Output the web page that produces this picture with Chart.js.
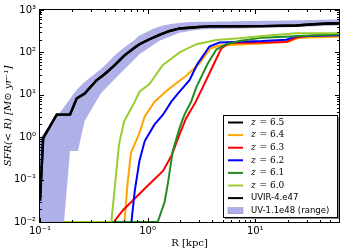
<!DOCTYPE html>
<html>
<head>
<meta charset="utf-8">
<script src="https://cdn.jsdelivr.net/npm/chart.js@4.4.0/dist/chart.umd.min.js"></script>
<style>
    html, body { margin: 0; padding: 0; background: #ffffff; }
    #wrap { width: 341px; height: 250px; position: relative; }
</style>
</head>
<body>
<div id="wrap"><canvas id="sfrChart"></canvas></div>
<script>
// Eixos e ticks
const xMajor = [0.1, 1, 10];
const yMajor = [0.01, 0.1, 1, 10, 100, 1000];

// Curvas SFR(<R) para cada redshift
const rZ65 = [0.1, 0.107, 0.143, 0.19, 0.219, 0.26, 0.335, 0.4, 0.495, 0.61, 0.76, 0.84, 1.04, 1.29, 1.6, 1.98, 2.45, 3.0, 3.75, 7.1, 11.6, 24, 35, 48, 60];
const sfrZ65 = [0.032, 0.95, 3.4, 3.4, 8.2, 10.7, 22, 31, 50, 85, 131, 156, 204, 260, 320, 367, 382, 396, 410, 415, 417, 431, 460, 479, 479];

const rZ64 = [0.1, 0.61, 0.65, 0.70, 0.84, 0.94, 1.16, 1.53, 2.28, 3.0, 3.83, 4.64, 7.1, 11.6, 20.6, 25.5, 60];
const sfrZ64 = [0.01, 0.01, 0.079, 0.43, 1.26, 3.1, 6.9, 13, 28, 53, 124, 146, 153, 162, 180, 223, 235];

const rZ63 = [0.1, 0.484, 0.59, 0.785, 1.04, 1.39, 1.66, 1.98, 2.28, 2.8, 3.25, 4.03, 4.84, 5.7, 19.4, 24, 31.6, 60];
const sfrZ63 = [0.01, 0.01, 0.019, 0.039, 0.079, 0.16, 0.36, 1.16, 2.8, 6.9, 15, 47, 124, 166, 177, 223, 244, 267];

const rZ62 = [0.1, 0.707, 0.76, 0.84, 0.94, 1.16, 1.39, 1.66, 1.9, 2.45, 2.9, 3.75, 4.64, 11.6, 19.4, 24, 60];
const sfrZ62 = [0.01, 0.01, 0.055, 0.28, 0.81, 2.0, 3.4, 6.9, 10.5, 22, 53, 138, 171, 185, 200, 242, 255];

const rZ61 = [0.1, 1.24, 1.44, 1.54, 1.71, 1.98, 2.2, 2.54, 2.83, 3.6, 4.35, 5.36, 7.1, 11.6, 60];
const sfrZ61 = [0.01, 0.01, 0.03, 0.079, 0.47, 1.64, 3.4, 6.9, 15, 53, 117, 156, 185, 223, 267];

const rZ60 = [0.1, 0.46, 0.506, 0.542, 0.604, 0.76, 0.84, 1.04, 1.38, 1.98, 2.84, 4.35, 7.1, 11.6, 24, 60];
const sfrZ60 = [0.01, 0.01, 0.113, 0.68, 2.35, 6.9, 11.8, 18, 50, 100, 156, 197, 215, 244, 281, 281];

// Faixa UV-1.1e48 (limites superior e inferior)
const rBand = [0.1, 0.125, 0.155, 0.19, 0.225, 0.26, 0.37, 0.53, 0.76, 0.84, 1.29, 1.98, 3.0, 7.1, 20, 60];
const bandUpper = [0.95, 2.0, 4.0, 8, 14, 20, 41, 100, 200, 250, 410, 495, 525, 546, 565, 595];
const bandLower = [0.001, 0.001, 0.001, 0.47, 0.47, 2.4, 11, 28, 70, 91, 187, 292, 348, 367, 390, 431];

const colors = {
    z65: '#000000',
    z64: '#ffa500',
    z63: '#ff0000',
    z62: '#0000ff',
    z61: '#228b22',
    z60: '#9acd32',
    band: '#b0b0e8'
};

function pts(xs, ys) {
    return xs.map((x, i) => ({ x: x, y: ys[i] }));
}

function supLabel(v) {
    const map = { '-': '⁻', '0': '⁰', '1': '¹', '2': '²', '3': '³' };
    const e = String(Math.round(Math.log10(v)));
    return '10' + e.split('').map(c => map[c]).join('');
}

function lineSet(label, xs, ys, color, order, width) {
    return {
        label: label,
        data: pts(xs, ys),
        borderColor: color,
        backgroundColor: color,
        borderWidth: width || 2,
        pointRadius: 0,
        tension: 0,
        fill: false,
        order: order
    };
}

// Ticks internos (estilo matplotlib) e moldura
const innerTicks = {
    id: 'innerTicks',
    afterDatasetsDraw(chart) {
        const ctx = chart.ctx;
        const a = chart.chartArea;
        const xs = chart.scales.x;
        const ys = chart.scales.y;
        ctx.save();
        ctx.strokeStyle = '#000';
        ctx.lineWidth = 1;
        ctx.strokeRect(a.left - 0.5, a.top - 0.5, a.right - a.left + 1, a.bottom - a.top + 1);
        ctx.beginPath();
        for (let d = -1; d <= 1; d++) {
            for (let m = 1; m <= 9; m++) {
                const v = m * Math.pow(10, d);
                if (v < xs.min || v > xs.max) continue;
                const px = Math.round(xs.getPixelForValue(v)) + 0.5;
                const len = m === 1 ? 4 : 2;
                ctx.moveTo(px, a.bottom); ctx.lineTo(px, a.bottom - len);
                ctx.moveTo(px, a.top); ctx.lineTo(px, a.top + len);
            }
        }
        for (let d = -2; d <= 3; d++) {
            for (let m = 1; m <= 9; m++) {
                const v = m * Math.pow(10, d);
                if (v < ys.min || v > ys.max) continue;
                const py = Math.round(ys.getPixelForValue(v)) + 0.5;
                const len = m === 1 ? 4 : 2;
                ctx.moveTo(a.left, py); ctx.lineTo(a.left + len, py);
                ctx.moveTo(a.right, py); ctx.lineTo(a.right - len, py);
            }
        }
        ctx.stroke();
        ctx.restore();
    }
};

// Legenda dentro do gráfico
const boxLegend = {
    id: 'boxLegend',
    afterDraw(chart) {
        const ctx = chart.ctx;
        const a = chart.chartArea;
        const right = a.right - 2, bottom = a.bottom - 5;
        const w = 114, h = 102;
        const left = right - w, top = bottom - h;
        ctx.save();
        ctx.fillStyle = '#888';
        ctx.fillRect(left + 2, top + 2, w, h);
        ctx.fillStyle = '#fff';
        ctx.fillRect(left, top, w, h);
        ctx.strokeStyle = '#000';
        ctx.lineWidth = 1;
        ctx.strokeRect(left + 0.5, top + 0.5, w, h);

        const items = chart.data.datasets.filter(ds => ds.legendRow !== undefined)
            .sort((p, q) => p.legendRow - q.legendRow);
        items.forEach((ds, i) => {
            const y = top + 7.5 + i * 12.6;
            const x0 = left + 5;
            if (ds.isBand) {
                ctx.fillStyle = colors.band;
                ctx.fillRect(x0, y - 3, 15, 6);
                ctx.strokeStyle = '#8080c0';
                ctx.lineWidth = 0.5;
                ctx.strokeRect(x0, y - 3, 15, 6);
            } else {
                ctx.strokeStyle = ds.borderColor;
                ctx.lineWidth = 2;
                ctx.beginPath();
                ctx.moveTo(x0, y); ctx.lineTo(x0 + 15, y);
                ctx.stroke();
            }
            ctx.fillStyle = '#000';
            ctx.textBaseline = 'middle';
            ctx.textAlign = 'left';
            const tx = left + 28;
            if (ds.label.startsWith('z')) {
                ctx.font = 'italic 9px "DejaVu Serif"';
                ctx.fillText('z', tx, y);
                const zw = ctx.measureText('z ').width;
                ctx.font = '9px "DejaVu Serif"';
                ctx.fillText(ds.label.slice(1).trim(), tx + zw + 1, y);
            } else {
                ctx.font = '8.5px "DejaVu Sans"';
                ctx.fillText(ds.label, tx, y);
            }
        });
        ctx.restore();
    }
};

const bandUp = {
    label: 'UV-1.1e48 (range)',
    data: pts(rBand, bandUpper),
    borderWidth: 0,
    borderColor: colors.band,
    backgroundColor: colors.band,
    pointRadius: 0,
    tension: 0.3,
    fill: '+1',
    order: 2,
    legendRow: 7,
    isBand: true
};
const bandLow = {
    label: 'band-low',
    data: pts(rBand, bandLower),
    borderWidth: 0,
    borderColor: colors.band,
    backgroundColor: colors.band,
    pointRadius: 0,
    tension: 0,
    fill: false,
    order: 2
};

const d65 = lineSet('z = 6.5', rZ65, sfrZ65, colors.z65, 1, 2.4); d65.legendRow = 0;
const d64 = lineSet('z = 6.4', rZ64, sfrZ64, colors.z64, 8); d64.legendRow = 1;
const d63 = lineSet('z = 6.3', rZ63, sfrZ63, colors.z63, 7); d63.legendRow = 2;
const d62 = lineSet('z = 6.2', rZ62, sfrZ62, colors.z62, 6); d62.legendRow = 3;
const d61 = lineSet('z = 6.1', rZ61, sfrZ61, colors.z61, 5); d61.legendRow = 4;
const d60 = lineSet('z = 6.0', rZ60, sfrZ60, colors.z60, 4); d60.legendRow = 5;
const dUVIR = lineSet('UVIR-4.e47', rZ65, sfrZ65, colors.z65, 0, 2.4); dUVIR.legendRow = 6;

new Chart(document.getElementById('sfrChart'), {
    type: 'line',
    data: {
        datasets: [d65, d64, d63, d62, d61, d60, bandUp, bandLow, dUVIR]
    },
    options: {
        responsive: true,
        maintainAspectRatio: false,
        animation: false,
        layout: { padding: { left: 0, right: 2, top: 7, bottom: 0 } },
        plugins: {
            legend: { display: false },
            tooltip: { enabled: false }
        },
        scales: {
            x: {
                type: 'logarithmic',
                min: 0.1,
                max: 60,
                grid: { display: false, drawTicks: false },
                border: { display: false },
                afterBuildTicks: s => { s.ticks = xMajor.map(v => ({ value: v })); },
                afterFit: s => { s.height = 28; },
                ticks: {
                    padding: 3,
                    maxRotation: 0,
                    color: '#000',
                    font: { family: 'DejaVu Sans', size: 10 },
                    callback: v => supLabel(v)
                },
                title: {
                    display: true,
                    text: 'R [kpc]',
                    color: '#000',
                    padding: { top: 0, bottom: 1 },
                    font: { family: 'DejaVu Serif', size: 10 }
                }
            },
            y: {
                type: 'logarithmic',
                min: 0.01,
                max: 1000,
                grid: { display: false, drawTicks: false },
                border: { display: false },
                afterBuildTicks: s => { s.ticks = yMajor.map(v => ({ value: v })); },
                afterFit: s => { s.width = 40; },
                ticks: {
                    padding: 4,
                    color: '#000',
                    font: { family: 'DejaVu Sans', size: 10 },
                    callback: v => supLabel(v)
                },
                title: {
                    display: true,
                    text: 'SFR(< R) [M⊙ yr⁻¹]',
                    color: '#000',
                    padding: { top: 2, bottom: 2 },
                    font: { family: 'DejaVu Serif', size: 10, style: 'italic' }
                }
            }
        }
    },
    plugins: [innerTicks, boxLegend]
});
</script>
</body>
</html>
